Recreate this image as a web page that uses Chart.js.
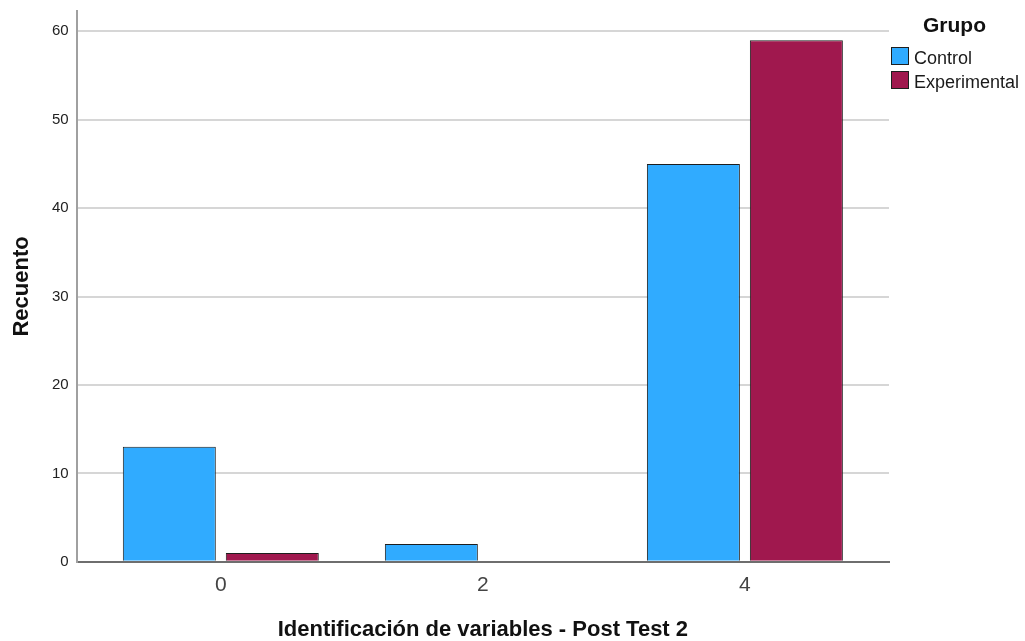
<!DOCTYPE html>
<html>
<head>
<meta charset="utf-8">
<script src="https://cdn.jsdelivr.net/npm/chart.js@4/dist/chart.umd.min.js"></script>
<style>
  html, body { margin: 0; padding: 0; background: #fff; }
  #wrap { position: relative; width: 1025px; height: 641px; }
  #chart { display: block; }
  #legend {
    position: absolute; left: 891px; top: 0;
    font-family: "Liberation Sans", Arial, sans-serif; color: #1a1a1a;
  }
  #legend .title {
    position: absolute; left: 32px; top: 14px; white-space: nowrap;
    font-size: 21px; line-height: 1; font-weight: bold; color: #111;
  }
  #legend .items { position: absolute; left: 0; top: 47px; }
  #legend .item { display: flex; align-items: flex-start; height: 24px; white-space: nowrap; }
  #legend .box { width: 16px; height: 16px; border: 1px solid #1e1e1e; margin-right: 5px; }
  #legend .label { font-size: 18px; line-height: 18px; padding-top: 2px; }
</style>
</head>
<body>
<div id="wrap">
  <canvas id="chart" width="1025" height="641"></canvas>
  <div id="legend"></div>
</div>
<script>
'use strict';

// Datos (recuentos por grupo)
const categories = [0, 2, 4];
const controlCounts = [13, 2, 45];
const experimentalCounts = [1, 0, 59];
const yTicks = [0, 10, 20, 30, 40, 50, 60];

const FONT = '"Liberation Sans", Arial, sans-serif';

// SPSS no dibuja barras de recuento 0
const toPoints = (values) => categories.map((c, i) => ({ x: c, y: values[i] || null }));

const chart = new Chart(document.getElementById('chart'), {
  type: 'bar',
  data: {
    datasets: [
      {
        label: 'Control',
        data: toPoints(controlCounts),
        backgroundColor: '#30abff',
        borderColor: '#1e1e1e',
        borderWidth: 1,
      },
      {
        label: 'Experimental',
        data: toPoints(experimentalCounts),
        backgroundColor: '#a0184e',
        borderColor: '#1e1e1e',
        borderWidth: 1,
      },
    ],
  },
  options: {
    responsive: false,
    animation: false,
    devicePixelRatio: 1,
    categoryPercentage: 0.786,
    barPercentage: 0.903,
    layout: { padding: { top: 4, left: 11, right: 136, bottom: 0 } },
    scales: {
      x: {
        type: 'linear',
        offset: false,
        min: -1.1,
        max: 5.1,
        afterBuildTicks: (scale) => { scale.ticks = categories.map((v) => ({ value: v })); },
        grid: { display: false, drawTicks: false },
        border: { color: '#6e6e6e', width: 2 },
        ticks: { padding: 11, color: '#444', font: { family: FONT, size: 21 } },
        title: {
          display: true,
          text: 'Identificación de variables - Post Test 2',
          color: '#111',
          font: { family: FONT, size: 22, weight: 'bold', lineHeight: 1 },
          padding: { top: 10, bottom: 0 },
        },
      },
      y: {
        min: 0,
        max: 62.3,
        afterBuildTicks: (scale) => { scale.ticks = yTicks.map((v) => ({ value: v })); },
        grid: { color: '#d6d6d6', lineWidth: 2, drawTicks: false },
        border: { color: '#a0a0a0', width: 2 },
        // lineHeight bajo: evita el margen superior que Chart.js reserva para la etiqueta
        ticks: { padding: 8, color: '#222', font: { family: FONT, size: 15, lineHeight: 0.4 } },
        title: {
          display: true,
          text: 'Recuento',
          color: '#111',
          font: { family: FONT, size: 22, weight: 'bold', lineHeight: 1 },
          padding: { top: 0, bottom: 11 },
        },
      },
    },
    plugins: {
      tooltip: { enabled: false },
      legend: { display: false },
    },
  },
});

// Leyenda estilo SPSS a partir de los datasets
const legend = document.getElementById('legend');
legend.innerHTML = '<div class="title">Grupo</div><div class="items">' + chart.data.datasets
  .map((ds) => `<div class="item"><span class="box" style="background:${ds.backgroundColor}"></span><span class="label">${ds.label}</span></div>`)
  .join('') + '</div>';
</script>
</body>
</html>
